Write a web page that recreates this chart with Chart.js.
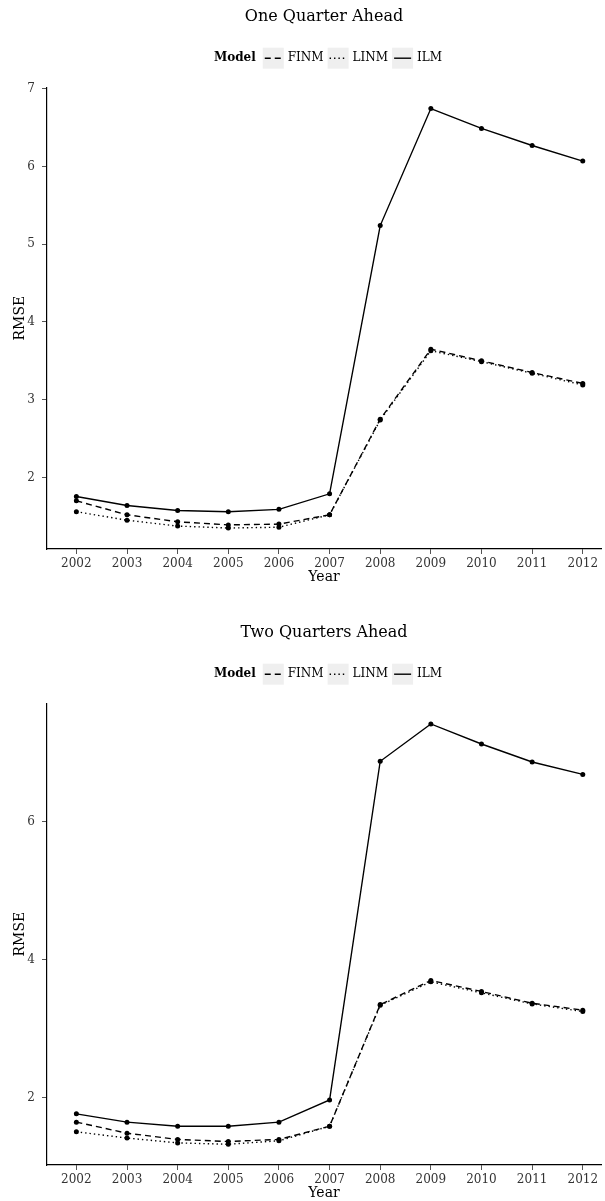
<!DOCTYPE html>
<html>
<head>
<meta charset="utf-8">
<script src="https://cdn.jsdelivr.net/npm/chart.js@4.4.1/dist/chart.umd.min.js"></script>
<style>
  html, body { margin: 0; padding: 0; background: #fff; overflow: hidden; }
  canvas { display: block; }
</style>
</head>
<body>
<canvas id="q1" width="605" height="616"></canvas>
<canvas id="q2" width="605" height="616"></canvas>
<script>
var years = [2002, 2003, 2004, 2005, 2006, 2007, 2008, 2009, 2010, 2011, 2012];

// one quarter ahead
var q1Finm = [1.70, 1.52, 1.43, 1.39, 1.40, 1.52, 2.75, 3.65, 3.50, 3.35, 3.21];
var q1Linm = [1.56, 1.45, 1.375, 1.35, 1.36, 1.52, 2.74, 3.63, 3.49, 3.34, 3.19];
var q1Ilm = [1.755, 1.64, 1.575, 1.56, 1.59, 1.79, 5.24, 6.745, 6.49, 6.27, 6.07];
var q1Ticks = [2, 3, 4, 5, 6, 7];

// two quarters ahead
var q2Finm = [1.65, 1.49, 1.40, 1.37, 1.40, 1.59, 3.35, 3.70, 3.54, 3.37, 3.27];
var q2Linm = [1.51, 1.42, 1.35, 1.33, 1.38, 1.59, 3.34, 3.68, 3.52, 3.36, 3.25];
var q2Ilm = [1.77, 1.65, 1.59, 1.59, 1.65, 1.97, 6.87, 7.41, 7.12, 6.86, 6.68];
var q2Ticks = [2, 4, 6];

Chart.defaults.font.family = '"DejaVu Serif", serif';
Chart.defaults.color = '#000';

// legend drawn like the ggplot one: bold title, grey keys, line samples
var modelLegend = {
    id: 'modelLegend',
    afterDraw: function (chart) {
        var ctx = chart.ctx;
        var area = chart.chartArea;
        var y = area.top - 29;
        var sets = chart.data.datasets;
        ctx.save();
        ctx.textBaseline = 'middle';
        ctx.font = 'bold 12px "DejaVu Serif"';
        var titleW = ctx.measureText('Model').width;
        ctx.font = '12px "DejaVu Serif"';
        var total = titleW + 7;
        sets.forEach(function (ds) {
            total += 21 + 4 + ctx.measureText(ds.label).width + 4;
        });
        var x = (area.left + area.right) / 2 - total / 2 + 6;
        ctx.fillStyle = '#000';
        ctx.font = 'bold 12px "DejaVu Serif"';
        ctx.fillText('Model', x, y);
        x += titleW + 7;
        ctx.font = '12px "DejaVu Serif"';
        sets.forEach(function (ds) {
            ctx.fillStyle = '#efefef';
            ctx.fillRect(x, y - 10.5, 21, 21);
            ctx.strokeStyle = '#000';
            ctx.lineWidth = 1.4;
            ctx.setLineDash(ds.borderDash || []);
            ctx.beginPath();
            ctx.moveTo(x + 2, y);
            ctx.lineTo(x + 19, y);
            ctx.stroke();
            ctx.setLineDash([]);
            x += 21 + 4;
            ctx.fillStyle = '#000';
            ctx.fillText(ds.label, x, y);
            x += ctx.measureText(ds.label).width + 4;
        });
        ctx.restore();
    }
};

function series(label, values, dash) {
    return {
        label: label,
        data: years.map(function (yr, i) { return { x: yr, y: values[i] }; }),
        borderColor: '#000',
        backgroundColor: '#000',
        borderWidth: 1.4,
        borderDash: dash,
        pointRadius: 2.5,
        pointBorderWidth: 0,
        pointBackgroundColor: '#000',
        tension: 0,
        fill: false
    };
}

function makeChart(id, title, finm, linm, ilm, yMin, yMax, yTicks) {
    new Chart(id, {
        type: 'line',
        data: {
            datasets: [
                series('FINM', finm, [6, 4]),
                series('LINM', linm, [1.4, 3]),
                series('ILM', ilm, [])
            ]
        },
        options: {
            responsive: false,
            animation: false,
            layout: { padding: 0 },
            plugins: {
                legend: { display: false },
                tooltip: { enabled: false },
                title: {
                    display: true,
                    text: title,
                    fullSize: false,
                    color: '#000',
                    font: { size: 16, weight: 'normal' },
                    padding: { top: 7, bottom: 61 }
                }
            },
            scales: {
                x: {
                    type: 'linear',
                    min: 2001.42,
                    max: 2012.36,
                    afterBuildTicks: function (s) { s.ticks = years.map(function (v) { return { value: v }; }); },
                    afterFit: function (s) { s.height = 67; },
                    grid: { drawOnChartArea: false, drawTicks: true, tickLength: 5, color: '#555' },
                    border: { display: true, color: '#000', width: 1.2 },
                    ticks: {
                        autoSkip: false, maxRotation: 0, padding: 3, color: '#333',
                        font: { size: 12 },
                        callback: function (v) { return String(v); }
                    },
                    title: { display: true, text: 'Year', color: '#000', font: { size: 14 }, padding: { top: 0, bottom: 30 } }
                },
                y: {
                    min: yMin,
                    max: yMax,
                    afterBuildTicks: function (s) { s.ticks = yTicks.map(function (v) { return { value: v }; }); },
                    afterFit: function (s) { s.width = 47; },
                    grid: { drawOnChartArea: false, drawTicks: true, tickLength: 5, color: '#555' },
                    border: { display: true, color: '#000', width: 1.2 },
                    ticks: {
                        padding: 7, color: '#333', font: { size: 12 },
                        callback: function (v) { return String(v); }
                    },
                    title: { display: true, text: 'RMSE', color: '#000', font: { size: 14 }, padding: { top: 12 } }
                }
            }
        },
        plugins: [modelLegend]
    });
}

makeChart('q1', 'One Quarter Ahead', q1Finm, q1Linm, q1Ilm, 1.08, 7.02, q1Ticks);
makeChart('q2', 'Two Quarters Ahead', q2Finm, q2Linm, q2Ilm, 1.03, 7.71, q2Ticks);
</script>
</body>
</html>
